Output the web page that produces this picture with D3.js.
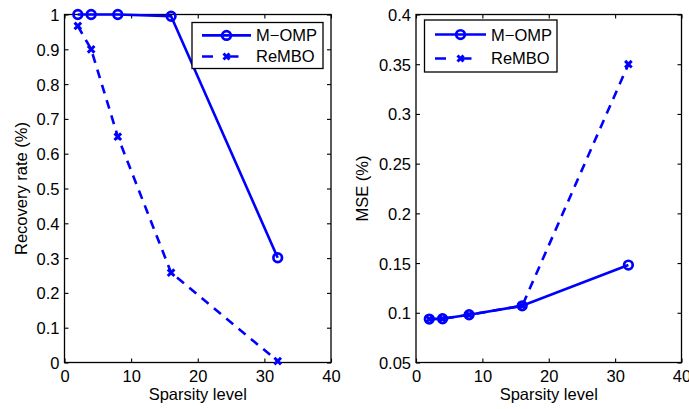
<!DOCTYPE html>
<html><head><meta charset="utf-8">
<script src="https://cdn.jsdelivr.net/npm/d3@7"></script>
<style>
body{margin:0;background:#fff;}
svg{display:block;font-family:"Liberation Sans",Arial,Helvetica,sans-serif;}
</style></head>
<body>
<svg id="c" width="689" height="409"></svg>
<script>
const sparsity = [2, 4, 8, 16, 32];
const recoveryMOMP = [1, 1, 1, 0.995, 0.301];
const recoveryReMBO = [0.967, 0.90, 0.649, 0.258, 0.004];
const mseMOMP = [0.0937, 0.094, 0.098, 0.107, 0.148];
const mseReMBO = [0.0937, 0.094, 0.098, 0.107, 0.350];
const xTicks = [0, 10, 20, 30, 40];
const yTicksLeft = [0, 0.1, 0.2, 0.3, 0.4, 0.5, 0.6, 0.7, 0.8, 0.9, 1];
const yTicksRight = [0.05, 0.1, 0.15, 0.2, 0.25, 0.3, 0.35, 0.4];
const seriesNames = ["M\u2212OMP", "ReMBO"];

const svg = d3.select("#c");
const blue = "#0000ff";
const fs = 16.5;
const lw = 2.6;
const fmt = d => String(+d.toFixed(2));

function xMarker(g, x, y, s) {
  g.append("path")
    .attr("d", `M${x-s},${y-s}L${x+s},${y+s}M${x-s},${y+s}L${x+s},${y-s}`)
    .attr("stroke", blue).attr("stroke-width", 3).attr("fill", "none");
}

function panel(opt) {
  const {x0, x1, y0, y1, ydom, yticks, ylabel, ylabX, series, legend} = opt;
  const x = d3.scaleLinear().domain([0, 40]).range([x0, x1]);
  const y = d3.scaleLinear().domain(ydom).range([y1, y0]);
  const g = svg.append("g");
  const tl = 4;

  const ax = g.append("g").attr("transform", `translate(0,${y1})`)
    .call(d3.axisBottom(x).tickValues(xTicks).tickSizeInner(-tl).tickSizeOuter(0).tickPadding(8).tickFormat(d3.format("d")));
  const axT = g.append("g").attr("transform", `translate(0,${y0})`)
    .call(d3.axisTop(x).tickValues(xTicks).tickSizeInner(-tl).tickSizeOuter(0).tickFormat(""));
  const ay = g.append("g").attr("transform", `translate(${x0},0)`)
    .call(d3.axisLeft(y).tickValues(yticks).tickSizeInner(-tl).tickSizeOuter(0).tickPadding(5).tickFormat(fmt));
  const ayR = g.append("g").attr("transform", `translate(${x1},0)`)
    .call(d3.axisRight(y).tickValues(yticks).tickSizeInner(-tl).tickSizeOuter(0).tickFormat(""));
  [ax, axT, ay, ayR].forEach(a => {
    a.select(".domain").remove();
    a.selectAll("line").attr("stroke", "#000").attr("stroke-width", 1.1);
    a.selectAll("text").attr("fill", "#000").style("font-size", fs + "px").style("font-family", "Liberation Sans, Arial, sans-serif");
  });
  ay.selectAll("text").attr("dy", "0.36em");
  g.append("rect").attr("x", x0).attr("y", y0).attr("width", x1 - x0).attr("height", y1 - y0)
    .attr("fill", "none").attr("stroke", "#000").attr("stroke-width", 1.3);

  g.append("text").attr("x", (x0 + x1) / 2).attr("y", 400).attr("text-anchor", "middle")
    .style("font-size", fs + "px").text("Sparsity level");
  g.append("text").attr("transform", `translate(${ylabX},${(y0 + y1) / 2}) rotate(-90)`)
    .attr("text-anchor", "middle").attr("dy", "0.36em").style("font-size", fs + "px").text(ylabel);

  const line = d3.line().x((d, i) => x(sparsity[i])).y(d => y(d));
  g.append("path").datum(series[1]).attr("d", line).attr("fill", "none")
    .attr("stroke", blue).attr("stroke-width", lw).attr("stroke-dasharray", "9,7");
  g.append("path").datum(series[0]).attr("d", line).attr("fill", "none")
    .attr("stroke", blue).attr("stroke-width", lw);
  series[0].forEach((d, i) => {
    g.append("circle").attr("cx", x(sparsity[i])).attr("cy", y(d)).attr("r", 4.3)
      .attr("fill", "none").attr("stroke", blue).attr("stroke-width", 2.7);
  });
  series[1].forEach((d, i) => xMarker(g, x(sparsity[i]), y(d), 3.3));

  const L = legend;
  g.append("rect").attr("x", L.x).attr("y", L.y).attr("width", L.w).attr("height", L.h)
    .attr("fill", "#fff").attr("stroke", "#000").attr("stroke-width", 1.3);
  const r1 = L.y + L.h * 0.28, r2 = L.y + L.h * 0.74;
  g.append("line").attr("x1", L.lx1).attr("x2", L.lx2).attr("y1", r1).attr("y2", r1)
    .attr("stroke", blue).attr("stroke-width", lw);
  g.append("circle").attr("cx", (L.lx1 + L.lx2) / 2).attr("cy", r1).attr("r", 4.3)
    .attr("fill", "none").attr("stroke", blue).attr("stroke-width", 2.7);
  g.append("line").attr("x1", L.lx1).attr("x2", L.lx2).attr("y1", r2).attr("y2", r2)
    .attr("stroke", blue).attr("stroke-width", lw).attr("stroke-dasharray", "11,14.5");
  xMarker(g, (L.lx1 + L.lx2) / 2, r2, 3);
  [r1, r2].forEach((r, i) => g.append("text").attr("x", L.tx).attr("y", r).attr("dy", "0.36em")
    .style("font-size", fs + "px").text(seriesNames[i]));
}

panel({x0: 64.5, x1: 331, y0: 14.5, y1: 362.5, ydom: [0, 1], yticks: yTicksLeft,
  ylabel: "Recovery rate (%)", ylabX: 21, series: [recoveryMOMP, recoveryReMBO],
  legend: {x: 192, y: 22.5, w: 131, h: 46, lx1: 202, lx2: 251, tx: 256}});
panel({x0: 416, x1: 681.5, y0: 14.5, y1: 362.5, ydom: [0.05, 0.4], yticks: yTicksRight,
  ylabel: "MSE (%)", ylabX: 362, series: [mseMOMP, mseReMBO],
  legend: {x: 424.5, y: 20, w: 132.5, h: 52, lx1: 435, lx2: 486, tx: 491}});
</script>
</body></html>
